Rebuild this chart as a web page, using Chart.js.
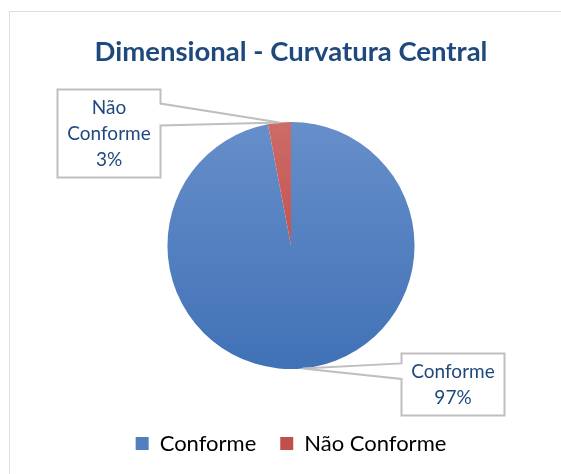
<!DOCTYPE html>
<html>
<head>
<meta charset="utf-8">
<script src="https://cdn.jsdelivr.net/npm/chart.js@4.4.1/dist/chart.umd.min.js"></script>
<style>
  html, body { margin: 0; padding: 0; background: #ffffff; }
  #wrap { position: relative; width: 561px; height: 474px; overflow: hidden; }
  #frame { position: absolute; left: 9px; top: 11px; width: 620px; height: 520px;
           border-left: 1px solid #d6e0ee; border-top: 1px solid #d6e0ee; }
  #c { position: absolute; left: 0; top: 0; }
</style>
</head>
<body>
<div id="wrap">
  <div id="frame"></div>
  <canvas id="c" width="561" height="474"></canvas>
</div>
<script>
// Chart content
const chartTitle = 'Dimensional - Curvatura Central';
const categories = ['Conforme', 'Não Conforme'];
const shares = [97, 3];                       // percent of inspected parts
const calloutLines = [['Conforme', '97%'], ['Não', 'Conforme', '3%']];

// Slice colours (top and bottom of the vertical shading) and legend swatches
const shadeTop = ['#6c93cd', '#cd6c68'];
const shadeBottom = ['#3b6db3', '#bd3a36'];
const swatch = ['#4f7fbf', '#c0504d'];
const textBlue = '#1f497d';

// Vertical gradient spanning the whole pie
function sliceFill(ctx) {
  const chart = ctx.chart;
  const a = chart.chartArea;
  const i = ctx.dataIndex || 0;
  if (!a) return swatch[i];
  const meta = chart.getDatasetMeta(0);
  const arc = meta.data[0];
  let cy = (a.top + a.bottom) / 2;
  let r = Math.min(a.width, a.height) / 2;
  if (arc && arc.outerRadius) { cy = arc.y; r = arc.outerRadius; }
  const g = chart.ctx.createLinearGradient(0, cy - r, 0, cy + r);
  g.addColorStop(0, shadeTop[i]);
  g.addColorStop(1, shadeBottom[i]);
  return g;
}

// Callout boxes: centre offset from pie centre (in radii), pointer drawn to slice edge
const calloutPlacement = [
  { dx: 1.312, dy: 1.125 },
  { dx: -1.474, dy: -0.907 }
];

const calloutPlugin = {
  id: 'callouts',
  afterDatasetsDraw(chart) {
    const ctx = chart.ctx;
    const meta = chart.getDatasetMeta(0);
    const font = '19px Lato';
    const lineH = 26;
    const padX = 10, padY = 5;
    ctx.save();
    ctx.font = font;
    meta.data.forEach((arc, i) => {
      const r = arc.outerRadius;
      const mid = (arc.startAngle + arc.endAngle) / 2;
      const ax = arc.x + Math.cos(mid) * r;
      const ay = arc.y + Math.sin(mid) * r;
      const lines = calloutLines[i];
      const w = Math.max(...lines.map(t => ctx.measureText(t).width)) + padX * 2;
      const h = lines.length * lineH + padY * 2;
      const cx = arc.x + calloutPlacement[i].dx * r;
      const cy = arc.y + calloutPlacement[i].dy * r;
      const x0 = Math.round(cx - w / 2) + 0.5, y0 = Math.round(cy - h / 2) + 0.5;
      const x1 = x0 + Math.round(w), y1 = y0 + Math.round(h);
      const p0 = y0 + h * 0.16, p1 = y0 + h * 0.41;
      ctx.beginPath();
      if (ax > x1) {
        ctx.moveTo(x0, y0); ctx.lineTo(x1, y0); ctx.lineTo(x1, p0);
        ctx.lineTo(ax, ay); ctx.lineTo(x1, p1); ctx.lineTo(x1, y1);
        ctx.lineTo(x0, y1); ctx.closePath();
      } else {
        ctx.moveTo(x0, y0); ctx.lineTo(x1, y0); ctx.lineTo(x1, y1);
        ctx.lineTo(x0, y1); ctx.lineTo(x0, p1); ctx.lineTo(ax, ay);
        ctx.lineTo(x0, p0); ctx.closePath();
      }
      ctx.fillStyle = '#ffffff';
      ctx.fill();
      ctx.lineWidth = 2;
      ctx.strokeStyle = '#bfbfbf';
      ctx.lineJoin = 'miter';
      ctx.stroke();
      ctx.fillStyle = textBlue;
      ctx.textAlign = 'center';
      ctx.textBaseline = 'middle';
      lines.forEach((t, k) => {
        ctx.fillText(t, (x0 + x1) / 2, y0 + padY + lineH * (k + 0.5));
      });
    });
    ctx.restore();
  }
};

new Chart(document.getElementById('c'), {
  type: 'pie',
  data: {
    labels: categories,
    datasets: [{
      data: shares,
      backgroundColor: sliceFill,
      borderWidth: 0,
      radius: '75.8%'
    }]
  },
  options: {
    responsive: false,
    animation: false,
    events: [],
    layout: { padding: { top: 10, left: 21, right: 0, bottom: 9.5 } },
    plugins: {
      title: {
        display: true,
        text: chartTitle,
        color: textBlue,
        font: { family: 'Lato', size: 27.5, weight: 'bold' },
        padding: { top: 25.5, bottom: 14 }
      },
      legend: {
        position: 'bottom',
        labels: {
          boxWidth: 13,
          boxHeight: 13,
          padding: 24,
          color: textBlue,
          font: { family: 'Lato', size: 22 },
          generateLabels(chart) {
            return categories.map((c, i) => ({
              text: c, fillStyle: swatch[i], strokeStyle: swatch[i],
              lineWidth: 0, hidden: false, index: i
            }));
          }
        }
      },
      tooltip: { enabled: false }
    }
  },
  plugins: [calloutPlugin]
});
</script>
</body>
</html>
